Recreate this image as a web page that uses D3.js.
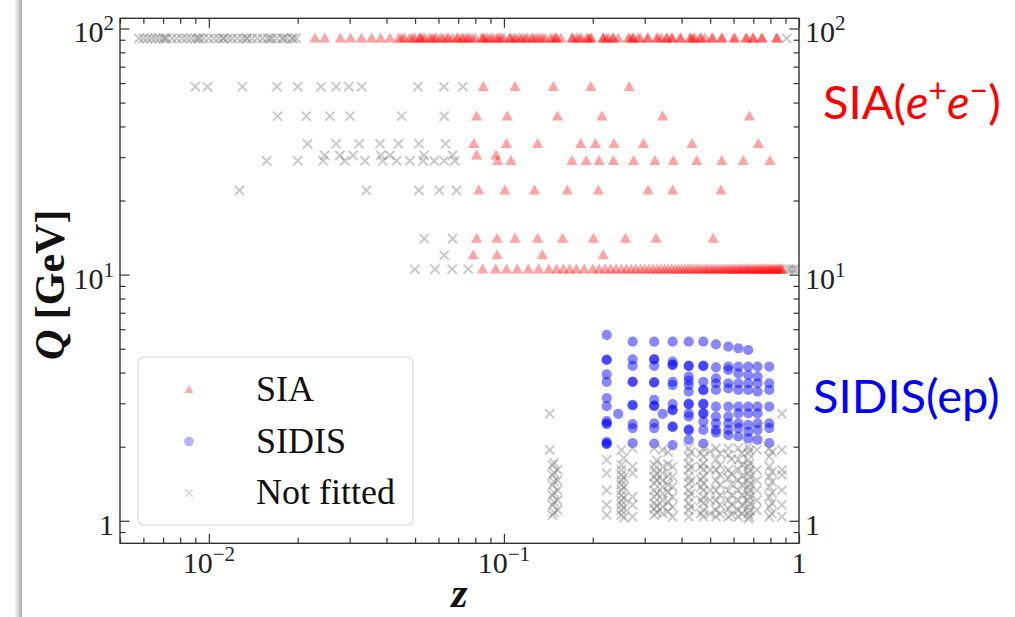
<!DOCTYPE html>
<html>
<head>
<meta charset="utf-8">
<script src="https://cdn.jsdelivr.net/npm/d3@7"></script>
<style>
  html, body { margin: 0; padding: 0; background: #fff; }
  svg { display: block; }
</style>
</head>
<body>
<svg id="chart" width="1015" height="617"></svg>
<script>
// ---------------- data ----------------
// SIA (e+e-) points: one z list per centre-of-mass energy Q [GeV]
const siaQ91 = 91.2;
const siaZ91 = [0.0229, 0.0247, 0.0279, 0.0302, 0.0329, 0.0356, 0.0382, 0.0411, 0.044, 0.046, 0.048, 0.050,
  0.052, 0.054, 0.056, 0.058, 0.061, 0.064, 0.067, 0.070, 0.073, 0.076, 0.080, 0.084, 0.088, 0.092, 0.096,
  0.100, 0.105, 0.110, 0.115, 0.120, 0.126, 0.132, 0.138, 0.144, 0.150, 0.156, 0.170, 0.176, 0.183, 0.193,
  0.198, 0.217, 0.226, 0.235, 0.244, 0.264, 0.274, 0.285, 0.306, 0.329, 0.342, 0.356, 0.370, 0.398, 0.427,
  0.444, 0.462, 0.480, 0.506, 0.547, 0.607, 0.665, 0.700, 0.747, 0.840];
const siaZ91b = [0.0519, 0.0570, 0.0621, 0.0693, 0.0749, 0.0849, 0.0947, 0.105, 0.113, 0.129, 0.151, 0.171,
  0.191, 0.217, 0.234, 0.274, 0.308, 0.357, 0.395, 0.437, 0.548, 0.698, 0.842];
const siaZ91c = [0.045, 0.049, 0.053, 0.059, 0.065, 0.072, 0.078, 0.086, 0.090, 0.098, 0.108, 0.118, 0.124,
  0.135, 0.147, 0.180, 0.196, 0.222, 0.268, 0.290, 0.333, 0.372, 0.430, 0.466, 0.510, 0.600, 0.660, 0.750];
const siaQ58 = 58, siaZ58 = [0.0851, 0.109, 0.147, 0.197, 0.266];
const siaQ44 = 44, siaZ44 = [0.0808, 0.1026, 0.152, 0.215, 0.345, 0.679];
const siaQ34 = 34, siaZ34 = [0.0791, 0.102, 0.130, 0.182, 0.204, 0.236, 0.297, 0.434, 0.728];
const siaQ30 = 30.5, siaZ30 = [0.0808, 0.094];
const siaQ29 = 29, siaZ29 = [0.0953, 0.1056, 0.170, 0.190, 0.210, 0.235, 0.275, 0.325, 0.375, 0.450, 0.547, 0.647, 0.797];
const siaQ22 = 22, siaZ22 = [0.0822, 0.1007, 0.127, 0.164, 0.209, 0.308, 0.373, 0.544];
const siaQ14 = 14, siaZ14 = [0.0808, 0.0948, 0.109, 0.130, 0.158, 0.201, 0.258, 0.328, 0.512];
const siaQ12 = 12, siaZ12 = [0.0787, 0.0948, 0.135, 0.217];
const siaQ10 = 10.52;
const siaZ10 = [0.0847, 0.0937, 0.102, 0.111, 0.121, 0.131, 0.142, 0.151, 0.159, 0.167, 0.176, 0.187,
  0.20, 0.21, 0.22, 0.23, 0.24, 0.25, 0.26, 0.27, 0.28, 0.29, 0.30, 0.31, 0.32, 0.33, 0.34, 0.35, 0.36,
  0.37, 0.38, 0.39, 0.40, 0.41, 0.42, 0.43, 0.44, 0.45, 0.46, 0.47, 0.48, 0.49, 0.50, 0.51, 0.52, 0.53,
  0.54, 0.55, 0.56, 0.57, 0.58, 0.59, 0.60, 0.61, 0.62, 0.63, 0.64, 0.65, 0.66, 0.67, 0.68, 0.69, 0.70,
  0.71, 0.72, 0.73, 0.74, 0.75, 0.76, 0.77, 0.78, 0.79, 0.80, 0.81, 0.82, 0.83, 0.84, 0.85, 0.86, 0.87, 0.88];

// SIDIS (ep) points: one Q list per z bin
const sidisZ = [0.223, 0.244, 0.273, 0.323, 0.345, 0.373, 0.423, 0.474, 0.523, 0.576, 0.623, 0.673, 0.724, 0.793];
const sidisQ = [
  [5.69, 4.52, 4.50, 3.93, 3.67, 3.15, 2.92, 2.54, 2.49, 2.47, 2.09, 2.06, 2.05],
  [2.72],
  [5.34, 4.53, 4.26, 3.68, 3.66, 2.96, 2.94, 2.47, 2.38, 2.07],
  [5.34, 4.54, 4.52, 4.26, 3.66, 3.64, 3.10, 2.94, 2.92, 2.49, 2.38, 2.06],
  [2.72],
  [5.34, 4.43, 4.31, 4.29, 3.67, 3.56, 2.98, 2.83, 2.81, 2.42, 2.40, 2.03],
  [5.34, 4.27, 4.25, 3.85, 3.71, 3.56, 3.35, 2.99, 2.97, 2.73, 2.65, 2.35, 2.33, 2.13],
  [5.34, 4.27, 4.25, 3.67, 3.41, 3.39, 2.99, 2.97, 2.74, 2.72, 2.53, 2.34, 2.06],
  [5.21, 4.20, 3.79, 3.62, 3.40, 2.91, 2.65, 2.49, 2.34, 2.28],
  [5.10, 4.23, 4.10, 3.62, 3.45, 2.91, 2.65, 2.49, 2.34, 2.23],
  [5.02, 4.23, 3.97, 3.62, 3.40, 2.91, 2.73, 2.49, 2.38, 2.20],
  [4.94, 4.23, 3.91, 3.62, 3.40, 2.91, 2.73, 2.45, 2.30, 2.16],
  [4.23, 3.85, 3.62, 3.35, 2.91, 2.73, 2.49, 2.34, 2.13],
  [4.23, 3.62, 3.40, 2.91, 2.49, 2.38, 2.07]
];

// Points left out of the fit
const nfQ91 = 91.2;
const nfZ91 = [0.0058, 0.0060, 0.0062, 0.0064, 0.0066, 0.0068, 0.0070, 0.0072, 0.0075, 0.0078, 0.0081, 0.0084,
  0.0087, 0.0090, 0.0093, 0.0096, 0.0100, 0.0104, 0.0108, 0.0112, 0.0116, 0.0120, 0.0125, 0.0130, 0.0135,
  0.0140, 0.0146, 0.0152, 0.0158, 0.0164, 0.0170, 0.0177, 0.0184, 0.0191, 0.0198, 0.908];
const nfZ91b = [0.0071, 0.0092, 0.0112, 0.0134, 0.0161, 0.0179, 0.0193];
const nfZ58 = [0.0090, 0.0099, 0.0130, 0.0170, 0.0200, 0.0240, 0.0270, 0.0298, 0.0330, 0.0511, 0.0626, 0.0726];
const nfZ44 = [0.0171, 0.0214, 0.0257, 0.0301, 0.0450, 0.0628];
const nfZ34 = [0.0216, 0.0270, 0.0323, 0.0380, 0.0439, 0.0515, 0.0634];
const nfZ30 = [0.0247, 0.0278, 0.0308, 0.0383, 0.0411, 0.0536, 0.0670];
const nfZ29 = [0.0157, 0.0200, 0.0244, 0.0289, 0.0338, 0.0388, 0.0433, 0.0480, 0.0532, 0.0580, 0.0628, 0.0682];
const nfZ22 = [0.0127, 0.0342, 0.0515, 0.0604, 0.0691];
const nfZ14 = [0.0537, 0.0670];
const nfZ12 = [0.0628];
const nfZ10 = [0.0499, 0.0584, 0.0668, 0.0757, 0.92, 0.94, 0.96, 0.98];
// low-Q SIDIS bins left out of the fit
const nfSidisZ = [0.143, 0.146, 0.152, 0.223, 0.250, 0.273, 0.323, 0.345, 0.373, 0.423, 0.474, 0.500, 0.523,
  0.576, 0.623, 0.673, 0.720, 0.793, 0.875];
const nfSidisQ = [
  [2.72, 1.94],
  [1.685, 1.535, 1.40, 1.27, 1.16, 1.055],
  [1.61, 1.46, 1.33, 1.21, 1.105],
  [1.77, 1.56, 1.33, 1.16, 1.055],
  [1.94, 1.685, 1.61, 1.535, 1.46, 1.40, 1.33, 1.27, 1.21, 1.16, 1.105, 1.055],
  [1.97, 1.66, 1.56, 1.25, 1.16, 1.04],
  [1.97, 1.685, 1.61, 1.51, 1.42, 1.33, 1.25, 1.18, 1.12, 1.055],
  [1.94, 1.66, 1.56, 1.46, 1.375, 1.29, 1.21, 1.14, 1.07],
  [1.66, 1.51, 1.375, 1.25, 1.14, 1.04],
  [1.97, 1.82, 1.71, 1.61, 1.51, 1.42, 1.33, 1.25, 1.18, 1.105, 1.04],
  [1.97, 1.82, 1.71, 1.61, 1.51, 1.42, 1.33, 1.25, 1.18, 1.105, 1.04],
  [1.91, 1.61, 1.33, 1.21, 1.07],
  [1.97, 1.77, 1.61, 1.46, 1.33, 1.21, 1.105, 1.04],
  [1.97, 1.85, 1.61, 1.49, 1.33, 1.21, 1.12, 1.04],
  [1.97, 1.77, 1.61, 1.46, 1.33, 1.21, 1.105, 1.04],
  [2.00, 1.88, 1.77, 1.66, 1.56, 1.46, 1.375, 1.29, 1.21, 1.14, 1.07, 1.02],
  [1.94, 1.61, 1.46, 1.33, 1.21, 1.105],
  [1.97, 1.82, 1.66, 1.51, 1.375, 1.25, 1.14, 1.04],
  [2.72, 1.94, 1.61, 1.535, 1.33, 1.16, 1.04]
];
// second low-Q set sharing the same z bins (slightly shifted Q values)
const nfSidisZb = [0.148, 0.255, 0.330, 0.360, 0.430, 0.465, 0.540, 0.590, 0.640, 0.680, 0.810];
const nfSidisQb = [
  [1.72, 1.57, 1.44, 1.30, 1.19, 1.08],
  [1.80, 1.50, 1.37, 1.24, 1.13, 1.03],
  [1.76, 1.55, 1.46, 1.29, 1.15, 1.08],
  [1.90, 1.70, 1.52, 1.40, 1.31, 1.19, 1.09],
  [1.90, 1.65, 1.45, 1.29, 1.14],
  [1.88, 1.66, 1.47, 1.37, 1.21, 1.07],
  [1.88, 1.68, 1.54, 1.40, 1.27, 1.16, 1.07],
  [1.78, 1.55, 1.41, 1.27, 1.16, 1.06],
  [1.88, 1.69, 1.52, 1.40, 1.27, 1.16, 1.07],
  [1.93, 1.71, 1.60, 1.51, 1.41, 1.33, 1.25, 1.17, 1.10, 1.04],
  [1.90, 1.58, 1.44, 1.30, 1.18, 1.07]
];

// axis ticks and labels
const xMajor = [0.01, 0.1, 1];
const yMajor = [1, 10, 100];
const legendLabels = ["SIA", "SIDIS", "Not fitted"];

// ---------------- assemble points ----------------
const row = (Q, zs) => zs.map(z => ({ z, Q }));
const col = (z, Qs) => Qs.map(Q => ({ z, Q }));

const siaPts = [].concat(
  row(siaQ91, siaZ91), row(siaQ91, siaZ91b), row(siaQ91, siaZ91c), row(siaQ58, siaZ58), row(siaQ44, siaZ44),
  row(siaQ34, siaZ34), row(siaQ30, siaZ30), row(siaQ29, siaZ29), row(siaQ22, siaZ22),
  row(siaQ14, siaZ14), row(siaQ12, siaZ12), row(siaQ10, siaZ10));
const sidisPts = [].concat(...sidisZ.map((z, i) => col(z, sidisQ[i])));
const nfPts = [].concat(
  row(nfQ91, nfZ91), row(nfQ91, nfZ91b), row(siaQ58, nfZ58), row(siaQ44, nfZ44),
  row(siaQ34, nfZ34), row(siaQ30, nfZ30), row(siaQ29, nfZ29), row(siaQ22, nfZ22),
  row(siaQ14, nfZ14), row(siaQ12, nfZ12), row(siaQ10, nfZ10),
  ...nfSidisZ.map((z, i) => col(z, nfSidisQ[i])),
  ...nfSidisZb.map((z, i) => col(z, nfSidisQb[i])));

// ---------------- layout ----------------
const svg = d3.select("#chart");
const L = 120, R = 799, T = 18.3, B = 543.3;
const x = d3.scaleLog().domain([0.005, 1]).range([L, R]);
const y = d3.scaleLog().domain([0.81, 110]).range([B, T]);

const serif = "'Liberation Serif', 'DejaVu Serif', serif";

// slide frame shadow on the left
const defs = svg.append("defs");
const grad = defs.append("linearGradient").attr("id", "shade").attr("x1", 0).attr("x2", 1);
grad.append("stop").attr("offset", 0).attr("stop-color", "#ffffff");
grad.append("stop").attr("offset", 0.6).attr("stop-color", "#cfcfcf");
grad.append("stop").attr("offset", 1).attr("stop-color", "#a9a9a9");
svg.append("rect").attr("x", 14).attr("y", 0).attr("width", 8).attr("height", 617).attr("fill", "url(#shade)");

defs.append("clipPath").attr("id", "plotclip")
  .append("rect").attr("x", L).attr("y", T).attr("width", R - L).attr("height", B - T);

// ---------------- markers ----------------
const triPath = "M0,-5.8L5.6,4.2L-5.6,4.2Z";
const plot = svg.append("g").attr("clip-path", "url(#plotclip)");

plot.append("g").selectAll("path").data(siaPts).join("path")
  .attr("d", triPath)
  .attr("transform", d => `translate(${x(d.z)},${y(d.Q)})`)
  .attr("fill", "#ff0000").attr("fill-opacity", 0.36);

plot.append("g").selectAll("circle").data(sidisPts).join("circle")
  .attr("cx", d => x(d.z)).attr("cy", d => y(d.Q)).attr("r", 5.1)
  .attr("fill", "#0000ff").attr("fill-opacity", 0.47);

const crossPath = "M-4.6,-4.6L4.6,4.6M-4.6,4.6L4.6,-4.6";
plot.append("g").selectAll("path").data(nfPts).join("path")
  .attr("d", crossPath)
  .attr("transform", d => `translate(${x(d.z)},${y(d.Q)})`)
  .attr("stroke", "#808080").attr("stroke-opacity", 0.42).attr("stroke-width", 2).attr("fill", "none");

// ---------------- axes ----------------
function minorTicks(domain) {
  const out = [];
  const lo = Math.floor(Math.log10(domain[0])), hi = Math.ceil(Math.log10(domain[1]));
  for (let e = lo; e <= hi; e++) for (let m = 2; m <= 9; m++) {
    const v = m * Math.pow(10, e);
    if (v >= domain[0] && v <= domain[1]) out.push(v);
  }
  return out;
}
const xMinor = minorTicks(x.domain());
const yMinor = minorTicks(y.domain());
const majLen = 9.5, minLen = 5.5;

function styleAxis(g) {
  g.select(".domain").remove();
  g.selectAll("line").attr("stroke", "#333").attr("stroke-width", 1.2);
  g.selectAll("text").remove();
}
[[d3.axisBottom, B], [d3.axisTop, T]].forEach(([fn, pos]) => {
  svg.append("g").attr("transform", `translate(0,${pos})`)
    .call(fn(x).tickValues(xMajor).tickSize(-majLen).tickFormat("")).call(styleAxis);
  svg.append("g").attr("transform", `translate(0,${pos})`)
    .call(fn(x).tickValues(xMinor).tickSize(-minLen).tickFormat("")).call(styleAxis);
});
[[d3.axisLeft, L], [d3.axisRight, R]].forEach(([fn, pos]) => {
  svg.append("g").attr("transform", `translate(${pos},0)`)
    .call(fn(y).tickValues(yMajor).tickSize(-majLen).tickFormat("")).call(styleAxis);
  svg.append("g").attr("transform", `translate(${pos},0)`)
    .call(fn(y).tickValues(yMinor).tickSize(-minLen).tickFormat("")).call(styleAxis);
});
svg.append("rect").attr("x", L).attr("y", T).attr("width", R - L).attr("height", B - T)
  .attr("fill", "none").attr("stroke", "#333").attr("stroke-width", 1.4);

// tick labels (10^n style)
function expLabel(t, v) {
  const e = Math.round(Math.log10(v));
  if (e === 0) { t.text("1"); return; }
  t.append("tspan").text("10");
  t.append("tspan").attr("dy", -12).attr("font-size", 21).text(e < 0 ? "\u2212" + (-e) : String(e));
}
const labelFont = 30;
yMajor.forEach(v => {
  const t1 = svg.append("text").attr("x", L - 6).attr("y", y(v) + 14)
    .attr("text-anchor", "end").attr("font-family", serif).attr("font-size", labelFont).attr("fill", "#222");
  expLabel(t1, v);
  const t2 = svg.append("text").attr("x", R + 6).attr("y", y(v) + 14)
    .attr("text-anchor", "start").attr("font-family", serif).attr("font-size", labelFont).attr("fill", "#222");
  expLabel(t2, v);
});
xMajor.forEach(v => {
  const t = svg.append("text").attr("x", x(v)).attr("y", B + 30)
    .attr("text-anchor", "middle").attr("font-family", serif).attr("font-size", labelFont).attr("fill", "#222");
  expLabel(t, v);
});

// axis titles
const yt = svg.append("text")
  .attr("transform", `translate(64,${(T + B) / 2 + 4}) rotate(-90)`)
  .attr("text-anchor", "middle").attr("font-family", serif).attr("font-size", 42)
  .attr("font-weight", "bold").attr("fill", "#111");
yt.append("tspan").attr("font-style", "italic").text("Q");
yt.append("tspan").text(" [GeV]");

svg.append("text").attr("x", (L + R) / 2).attr("y", 607)
  .attr("text-anchor", "middle").attr("font-family", serif).attr("font-size", 42)
  .attr("font-weight", "bold").attr("font-style", "italic").attr("fill", "#111").text("z");

// ---------------- legend ----------------
const lg = svg.append("g");
lg.append("rect").attr("x", 138).attr("y", 357).attr("width", 275).attr("height", 168).attr("rx", 6)
  .attr("fill", "#fff").attr("fill-opacity", 0.8).attr("stroke", "#d9d9d9").attr("stroke-width", 1.2);
const legY = [389.5, 441.5, 493];
const mx = 189;
lg.append("path").attr("d", "M0,-4.6L4.6,3.4L-4.6,3.4Z").attr("transform", `translate(${mx},${legY[0]})`)
  .attr("fill", "#ff0000").attr("fill-opacity", 0.33);
lg.append("circle").attr("cx", mx).attr("cy", legY[1]).attr("r", 4.8)
  .attr("fill", "#0000ff").attr("fill-opacity", 0.3);
lg.append("path").attr("d", "M-3.8,-3.8L3.8,3.8M-3.8,3.8L3.8,-3.8").attr("transform", `translate(${mx},${legY[2]})`)
  .attr("stroke", "#808080").attr("stroke-opacity", 0.3).attr("stroke-width", 1.7);
legendLabels.forEach((s, i) => {
  lg.append("text").attr("x", 256).attr("y", legY[i] + 11)
    .attr("font-family", serif).attr("font-size", 36).attr("fill", "#111").text(s);
});

// ---------------- side annotations ----------------
const sans = "Lato, 'Open Sans', 'Noto Sans', sans-serif";
const a1 = svg.append("text").attr("x", 823).attr("y", 119)
  .attr("font-family", sans).attr("font-size", 47).attr("fill", "#ff0000");
a1.append("tspan").text("SIA(");
a1.append("tspan").attr("font-style", "italic").text("e");
a1.append("tspan").attr("dy", -17).attr("font-size", 32).text("+");
a1.append("tspan").attr("dy", 17).attr("font-style", "italic").text("e");
a1.append("tspan").attr("dy", -17).attr("font-size", 32).text("\u2212");
a1.append("tspan").attr("dy", 17).text(")");

svg.append("text").attr("x", 813).attr("y", 413)
  .attr("font-family", sans).attr("font-size", 47).attr("fill", "#0000ff").text("SIDIS(ep)");
</script>
</body>
</html>
